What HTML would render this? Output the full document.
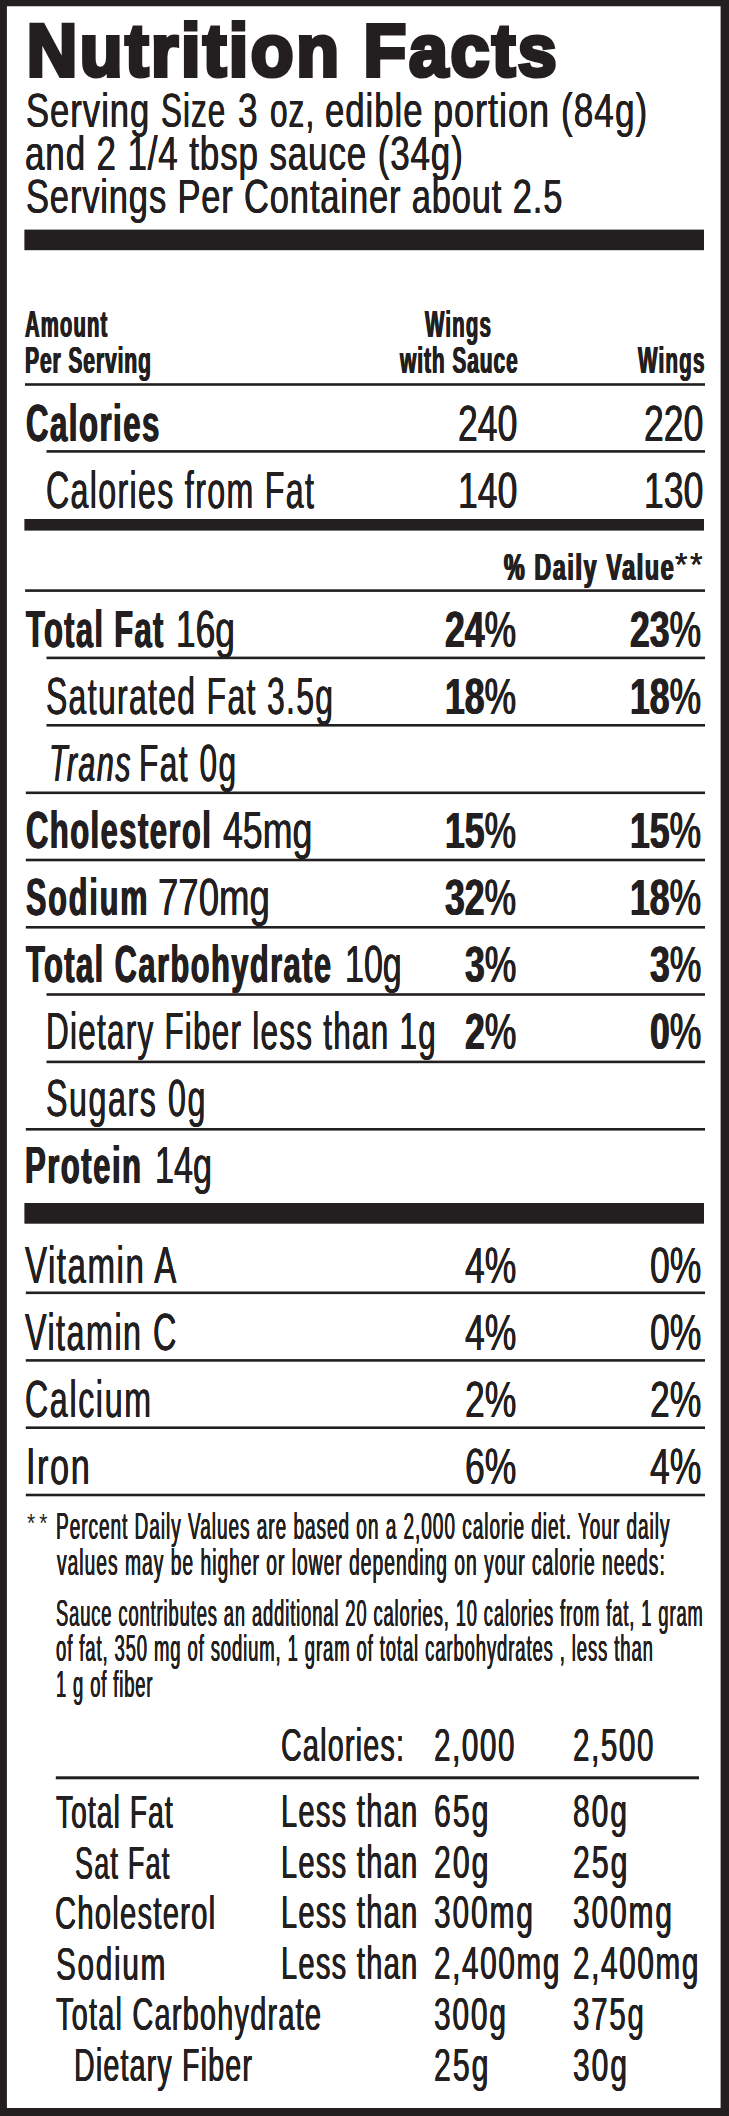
<!DOCTYPE html>
<html lang="en">
<head>
<meta charset="utf-8">
<title>Nutrition Facts</title>
<style>
html,body{margin:0;padding:0;background:#fff}
body{width:729px;height:2116px;position:relative;overflow:hidden;font-family:"Liberation Sans",sans-serif;color:#231f20}
.g{position:absolute;left:0;top:0}
.t{position:absolute;line-height:1;white-space:pre;transform-origin:0 0;font-weight:normal}
.ts{position:absolute;left:0;top:0;overflow:visible}
.t b{font-weight:bold}
</style>
</head>
<body>
<svg class="g" width="729" height="2116" viewBox="0 0 729 2116" fill="#231f20">
<path fill-rule="evenodd" d="M0 0H729V2116H0Z M6.9 6.3V2108.0H720.6V6.3Z"/>
<rect x="24.4" y="229.6" width="679.60" height="20.60"/>
<rect x="25.0" y="383.2" width="680.00" height="2.60"/>
<rect x="46.5" y="450.1" width="658.50" height="2.60"/>
<rect x="24.4" y="519.0" width="679.60" height="11.60"/>
<rect x="25.1" y="589.3" width="679.90" height="2.60"/>
<rect x="46.5" y="656.6" width="658.50" height="2.60"/>
<rect x="46.5" y="724.0" width="658.50" height="2.60"/>
<rect x="25.8" y="791.5" width="679.20" height="2.60"/>
<rect x="25.8" y="858.7" width="679.20" height="2.60"/>
<rect x="25.8" y="926.0" width="679.20" height="2.60"/>
<rect x="46.5" y="993.2" width="658.50" height="2.60"/>
<rect x="46.5" y="1060.6" width="658.50" height="2.60"/>
<rect x="25.8" y="1128.0" width="679.20" height="2.60"/>
<rect x="24.4" y="1203.0" width="679.60" height="20.70"/>
<rect x="25.8" y="1291.5" width="679.20" height="2.60"/>
<rect x="25.8" y="1359.1" width="679.20" height="2.60"/>
<rect x="25.8" y="1426.4" width="679.20" height="2.60"/>
<rect x="25.8" y="1493.7" width="679.20" height="2.60"/>
<rect x="55.8" y="1776.3" width="643.20" height="3.00"/>
</svg>
<svg class="ts" width="729" height="100" viewBox="0 0 729 100"><text transform="translate(26.69,76.00) scale(0.9350,1)" font-family="Liberation Sans, sans-serif" font-weight="bold" font-size="74.86" letter-spacing="2.775" fill="#231f20" stroke="#231f20" stroke-width="4.2" stroke-linejoin="miter" stroke-miterlimit="3">Nutrition Facts</text></svg>
<span class="t" style="left:26.07px;top:86.70px;font-size:47.53px;transform:scaleX(0.7281);text-shadow:0.34px 0 0 #231f20,-0.34px 0 0 #231f20;letter-spacing:1.377px">Serving</span>
<span class="t" style="left:161.27px;top:86.70px;font-size:47.53px;transform:scaleX(0.6616);text-shadow:0.38px 0 0 #231f20,-0.38px 0 0 #231f20;letter-spacing:1.562px">Size</span>
<span class="t" style="left:237.95px;top:86.70px;font-size:47.53px;transform:scaleX(0.7383);text-shadow:0.34px 0 0 #231f20,-0.34px 0 0 #231f20">3</span>
<span class="t" style="left:269.86px;top:86.70px;font-size:47.53px;transform:scaleX(0.6658);text-shadow:0.38px 0 0 #231f20,-0.38px 0 0 #231f20;letter-spacing:1.536px">oz,</span>
<span class="t" style="left:325.36px;top:86.70px;font-size:47.53px;transform:scaleX(0.7313);text-shadow:0.34px 0 0 #231f20,-0.34px 0 0 #231f20;letter-spacing:1.299px">edible</span>
<span class="t" style="left:432.59px;top:86.70px;font-size:47.53px;transform:scaleX(0.7612);text-shadow:0.33px 0 0 #231f20,-0.33px 0 0 #231f20;letter-spacing:1.225px">portion</span>
<span class="t" style="left:561.40px;top:86.70px;font-size:47.53px;transform:scaleX(0.7394);text-shadow:0.34px 0 0 #231f20,-0.34px 0 0 #231f20;letter-spacing:1.398px">(84g)</span>
<span class="t" style="left:25.16px;top:129.50px;font-size:47.53px;transform:scaleX(0.7360);text-shadow:0.34px 0 0 #231f20,-0.34px 0 0 #231f20;letter-spacing:1.182px">and 2 1/4 tbsp sauce (34g)</span>
<span class="t" style="left:26.07px;top:173.20px;font-size:47.53px;transform:scaleX(0.7254);text-shadow:0.34px 0 0 #231f20,-0.34px 0 0 #231f20;letter-spacing:1.187px">Servings Per Container about 2.5</span>
<span class="t" style="left:25.03px;top:306.40px;font-size:37.79px;transform:scaleX(0.5360);text-shadow:0.84px 0 0 #231f20,-0.84px 0 0 #231f20;letter-spacing:2.137px"><b>Amount</b></span>
<span class="t" style="left:25.23px;top:342.20px;font-size:37.79px;transform:scaleX(0.5588);text-shadow:0.81px 0 0 #231f20,-0.81px 0 0 #231f20;letter-spacing:1.545px"><b>Per Serving</b></span>
<span class="t" style="left:425.45px;top:306.40px;font-size:37.79px;transform:scaleX(0.5431);text-shadow:0.83px 0 0 #231f20,-0.83px 0 0 #231f20;letter-spacing:2.098px"><b>Wings</b></span>
<span class="t" style="left:399.78px;top:342.20px;font-size:37.79px;transform:scaleX(0.5551);text-shadow:0.81px 0 0 #231f20,-0.81px 0 0 #231f20;letter-spacing:1.648px"><b>with Sauce</b></span>
<span class="t" style="left:637.95px;top:342.20px;font-size:37.79px;transform:scaleX(0.5473);text-shadow:0.82px 0 0 #231f20,-0.82px 0 0 #231f20;letter-spacing:2.098px"><b>Wings</b></span>
<span class="t" style="left:26.48px;top:397.50px;font-size:51.6px;transform:scaleX(0.6033);text-shadow:0.75px 0 0 #231f20,-0.75px 0 0 #231f20;letter-spacing:2.483px"><b>Calories</b></span>
<span class="t" style="left:458.41px;top:398.50px;font-size:50.29px;transform:scaleX(0.7070);text-shadow:0.50px 0 0 #231f20,-0.50px 0 0 #231f20">240</span>
<span class="t" style="left:643.61px;top:398.50px;font-size:50.29px;transform:scaleX(0.7070);text-shadow:0.50px 0 0 #231f20,-0.50px 0 0 #231f20">220</span>
<span class="t" style="left:45.94px;top:464.60px;font-size:51.6px;transform:scaleX(0.6232);text-shadow:0.40px 0 0 #231f20,-0.40px 0 0 #231f20;letter-spacing:2.138px">Calories from Fat</span>
<span class="t" style="left:458.41px;top:465.60px;font-size:50.29px;transform:scaleX(0.7070);text-shadow:0.50px 0 0 #231f20,-0.50px 0 0 #231f20">140</span>
<span class="t" style="left:643.61px;top:465.60px;font-size:50.29px;transform:scaleX(0.7070);text-shadow:0.50px 0 0 #231f20,-0.50px 0 0 #231f20">130</span>
<span class="t" style="left:503.54px;top:548.50px;font-size:37.79px;transform:scaleX(0.6133);text-shadow:1.14px 0 0 #231f20,-1.14px 0 0 #231f20;letter-spacing:2.751px"><b>% Daily Value</b></span>
<span class="t" style="left:675.15px;top:548.40px;font-size:33.29px;transform:scaleX(0.9600);text-shadow:0.16px 0 0 #231f20,-0.16px 0 0 #231f20;letter-spacing:2.794px">**</span>
<span class="t" style="left:25.65px;top:603.80px;font-size:51.6px;transform:scaleX(0.5985);text-shadow:0.75px 0 0 #231f20,-0.75px 0 0 #231f20;letter-spacing:2.292px"><b>Total Fat</b></span>
<span class="t" style="left:176.44px;top:603.80px;font-size:51.6px;transform:scaleX(0.6840);text-shadow:0.37px 0 0 #231f20,-0.37px 0 0 #231f20">16g</span>
<span class="t" style="left:445.05px;top:604.80px;font-size:50.29px;transform:scaleX(0.7070);text-shadow:0.64px 0 0 #231f20,-0.64px 0 0 #231f20"><b>24</b>%</span>
<span class="t" style="left:630.15px;top:604.80px;font-size:50.29px;transform:scaleX(0.7070);text-shadow:0.64px 0 0 #231f20,-0.64px 0 0 #231f20"><b>23</b>%</span>
<span class="t" style="left:45.75px;top:670.90px;font-size:51.6px;transform:scaleX(0.6185);text-shadow:0.40px 0 0 #231f20,-0.40px 0 0 #231f20;letter-spacing:2.163px">Saturated Fat 3.5g</span>
<span class="t" style="left:445.05px;top:671.90px;font-size:50.29px;transform:scaleX(0.7070);text-shadow:0.64px 0 0 #231f20,-0.64px 0 0 #231f20"><b>18</b>%</span>
<span class="t" style="left:630.15px;top:671.90px;font-size:50.29px;transform:scaleX(0.7070);text-shadow:0.64px 0 0 #231f20,-0.64px 0 0 #231f20"><b>18</b>%</span>
<span class="t" style="left:49.48px;top:737.70px;font-size:51.6px;transform:scaleX(0.5868);text-shadow:0.60px 0 0 #231f20,-0.60px 0 0 #231f20;letter-spacing:2.679px"><i>Trans</i></span>
<span class="t" style="left:138.98px;top:737.70px;font-size:51.6px;transform:scaleX(0.6127);text-shadow:0.41px 0 0 #231f20,-0.41px 0 0 #231f20;letter-spacing:2.424px">Fat 0g</span>
<span class="t" style="left:26.08px;top:804.80px;font-size:51.6px;transform:scaleX(0.6001);text-shadow:0.75px 0 0 #231f20,-0.75px 0 0 #231f20;letter-spacing:2.428px"><b>Cholesterol</b></span>
<span class="t" style="left:222.69px;top:804.80px;font-size:51.6px;transform:scaleX(0.6916);text-shadow:0.36px 0 0 #231f20,-0.36px 0 0 #231f20">45mg</span>
<span class="t" style="left:445.05px;top:805.80px;font-size:50.29px;transform:scaleX(0.7070);text-shadow:0.64px 0 0 #231f20,-0.64px 0 0 #231f20"><b>15</b>%</span>
<span class="t" style="left:630.15px;top:805.80px;font-size:50.29px;transform:scaleX(0.7070);text-shadow:0.64px 0 0 #231f20,-0.64px 0 0 #231f20"><b>15</b>%</span>
<span class="t" style="left:26.37px;top:871.90px;font-size:51.6px;transform:scaleX(0.5916);text-shadow:0.76px 0 0 #231f20,-0.76px 0 0 #231f20;letter-spacing:3.221px"><b>Sodium</b></span>
<span class="t" style="left:158.33px;top:871.90px;font-size:51.6px;transform:scaleX(0.7091);text-shadow:0.35px 0 0 #231f20,-0.35px 0 0 #231f20">770mg</span>
<span class="t" style="left:445.05px;top:872.90px;font-size:50.29px;transform:scaleX(0.7070);text-shadow:0.64px 0 0 #231f20,-0.64px 0 0 #231f20"><b>32</b>%</span>
<span class="t" style="left:630.15px;top:872.90px;font-size:50.29px;transform:scaleX(0.7070);text-shadow:0.64px 0 0 #231f20,-0.64px 0 0 #231f20"><b>18</b>%</span>
<span class="t" style="left:25.65px;top:938.70px;font-size:51.6px;transform:scaleX(0.5983);text-shadow:0.75px 0 0 #231f20,-0.75px 0 0 #231f20;letter-spacing:2.393px"><b>Total Carbohydrate</b></span>
<span class="t" style="left:344.52px;top:938.70px;font-size:51.6px;transform:scaleX(0.6590);text-shadow:0.38px 0 0 #231f20,-0.38px 0 0 #231f20">10g</span>
<span class="t" style="left:464.82px;top:939.70px;font-size:50.29px;transform:scaleX(0.7070);text-shadow:0.64px 0 0 #231f20,-0.64px 0 0 #231f20"><b>3</b>%</span>
<span class="t" style="left:649.92px;top:939.70px;font-size:50.29px;transform:scaleX(0.7070);text-shadow:0.64px 0 0 #231f20,-0.64px 0 0 #231f20"><b>3</b>%</span>
<span class="t" style="left:45.79px;top:1005.50px;font-size:51.6px;transform:scaleX(0.6105);text-shadow:0.41px 0 0 #231f20,-0.41px 0 0 #231f20;letter-spacing:2.021px">Dietary Fiber less than 1g</span>
<span class="t" style="left:464.82px;top:1006.50px;font-size:50.29px;transform:scaleX(0.7070);text-shadow:0.64px 0 0 #231f20,-0.64px 0 0 #231f20"><b>2</b>%</span>
<span class="t" style="left:649.92px;top:1006.50px;font-size:50.29px;transform:scaleX(0.7070);text-shadow:0.64px 0 0 #231f20,-0.64px 0 0 #231f20"><b>0</b>%</span>
<span class="t" style="left:46.24px;top:1072.60px;font-size:51.6px;transform:scaleX(0.6241);text-shadow:0.40px 0 0 #231f20,-0.40px 0 0 #231f20;letter-spacing:2.508px">Sugars 0g</span>
<span class="t" style="left:25.11px;top:1140.20px;font-size:51.6px;transform:scaleX(0.6022);text-shadow:0.75px 0 0 #231f20,-0.75px 0 0 #231f20;letter-spacing:2.493px"><b>Protein</b></span>
<span class="t" style="left:155.42px;top:1140.20px;font-size:51.6px;transform:scaleX(0.6615);text-shadow:0.38px 0 0 #231f20,-0.38px 0 0 #231f20">14g</span>
<span class="t" style="left:25.35px;top:1240.40px;font-size:51.6px;transform:scaleX(0.6411);text-shadow:0.39px 0 0 #231f20,-0.39px 0 0 #231f20;letter-spacing:2.362px">Vitamin A</span>
<span class="t" style="left:464.92px;top:1241.40px;font-size:50.29px;transform:scaleX(0.7070);text-shadow:0.50px 0 0 #231f20,-0.50px 0 0 #231f20">4%</span>
<span class="t" style="left:650.02px;top:1241.40px;font-size:50.29px;transform:scaleX(0.7070);text-shadow:0.50px 0 0 #231f20,-0.50px 0 0 #231f20">0%</span>
<span class="t" style="left:25.35px;top:1307.00px;font-size:51.6px;transform:scaleX(0.6255);text-shadow:0.40px 0 0 #231f20,-0.40px 0 0 #231f20;letter-spacing:2.401px">Vitamin C</span>
<span class="t" style="left:464.92px;top:1308.00px;font-size:50.29px;transform:scaleX(0.7070);text-shadow:0.50px 0 0 #231f20,-0.50px 0 0 #231f20">4%</span>
<span class="t" style="left:650.02px;top:1308.00px;font-size:50.29px;transform:scaleX(0.7070);text-shadow:0.50px 0 0 #231f20,-0.50px 0 0 #231f20">0%</span>
<span class="t" style="left:25.24px;top:1374.30px;font-size:51.6px;transform:scaleX(0.6232);text-shadow:0.40px 0 0 #231f20,-0.40px 0 0 #231f20;letter-spacing:2.627px">Calcium</span>
<span class="t" style="left:464.92px;top:1375.30px;font-size:50.29px;transform:scaleX(0.7070);text-shadow:0.50px 0 0 #231f20,-0.50px 0 0 #231f20">2%</span>
<span class="t" style="left:650.02px;top:1375.30px;font-size:50.29px;transform:scaleX(0.7070);text-shadow:0.50px 0 0 #231f20,-0.50px 0 0 #231f20">2%</span>
<span class="t" style="left:25.77px;top:1441.20px;font-size:51.6px;transform:scaleX(0.6644);text-shadow:0.38px 0 0 #231f20,-0.38px 0 0 #231f20;letter-spacing:2.376px">Iron</span>
<span class="t" style="left:464.92px;top:1442.20px;font-size:50.29px;transform:scaleX(0.7070);text-shadow:0.50px 0 0 #231f20,-0.50px 0 0 #231f20">6%</span>
<span class="t" style="left:650.02px;top:1442.20px;font-size:50.29px;transform:scaleX(0.7070);text-shadow:0.50px 0 0 #231f20,-0.50px 0 0 #231f20">4%</span>
<span class="t" style="left:26.67px;top:1511.30px;font-size:25.58px;transform:scaleX(0.8200);letter-spacing:4.986px">**</span>
<span class="t" style="left:56.03px;top:1509.30px;font-size:36.92px;transform:scaleX(0.5170);text-shadow:0.43px 0 0 #231f20,-0.43px 0 0 #231f20;letter-spacing:1.821px">Percent Daily Values are based on a 2,000 calorie diet. Your daily</span>
<span class="t" style="left:56.52px;top:1544.80px;font-size:36.92px;transform:scaleX(0.5219);text-shadow:0.42px 0 0 #231f20,-0.42px 0 0 #231f20;letter-spacing:1.904px">values may be higher or lower depending on your calorie needs:</span>
<span class="t" style="left:56.15px;top:1595.60px;font-size:36.92px;transform:scaleX(0.4962);text-shadow:0.44px 0 0 #231f20,-0.44px 0 0 #231f20;letter-spacing:1.806px">Sauce contributes an additional 20 calories, 10 calories from fat, 1 gram</span>
<span class="t" style="left:56.14px;top:1631.10px;font-size:36.92px;transform:scaleX(0.4999);text-shadow:0.44px 0 0 #231f20,-0.44px 0 0 #231f20;letter-spacing:1.804px">of fat, 350 mg of sodium, 1 gram of total carbohydrates , less than</span>
<span class="t" style="left:56.37px;top:1666.70px;font-size:36.92px;transform:scaleX(0.4987);text-shadow:0.44px 0 0 #231f20,-0.44px 0 0 #231f20;letter-spacing:1.736px">1 g of fiber</span>
<span class="t" style="left:281.28px;top:1723.00px;font-size:45.79px;transform:scaleX(0.6281);text-shadow:0.53px 0 0 #231f20,-0.53px 0 0 #231f20;letter-spacing:1.895px">Calories:</span>
<span class="t" style="left:433.94px;top:1723.00px;font-size:45.79px;transform:scaleX(0.6476);text-shadow:0.51px 0 0 #231f20,-0.51px 0 0 #231f20;letter-spacing:2.419px">2,000</span>
<span class="t" style="left:572.94px;top:1723.00px;font-size:45.79px;transform:scaleX(0.6476);text-shadow:0.51px 0 0 #231f20,-0.51px 0 0 #231f20;letter-spacing:2.419px">2,500</span>
<span class="t" style="left:55.89px;top:1790.30px;font-size:45.79px;transform:scaleX(0.6115);text-shadow:0.54px 0 0 #231f20,-0.54px 0 0 #231f20;letter-spacing:1.902px">Total Fat</span>
<span class="t" style="left:281.07px;top:1789.00px;font-size:45.79px;transform:scaleX(0.6329);text-shadow:0.52px 0 0 #231f20,-0.52px 0 0 #231f20;letter-spacing:2.091px">Less than</span>
<span class="t" style="left:433.92px;top:1789.00px;font-size:45.79px;transform:scaleX(0.6590);text-shadow:0.50px 0 0 #231f20,-0.50px 0 0 #231f20;letter-spacing:3.116px">65g</span>
<span class="t" style="left:573.40px;top:1789.00px;font-size:45.79px;transform:scaleX(0.6525);text-shadow:0.51px 0 0 #231f20,-0.51px 0 0 #231f20;letter-spacing:3.147px">80g</span>
<span class="t" style="left:75.29px;top:1840.78px;font-size:45.79px;transform:scaleX(0.5881);text-shadow:0.56px 0 0 #231f20,-0.56px 0 0 #231f20;letter-spacing:2.121px">Sat Fat</span>
<span class="t" style="left:281.07px;top:1839.74px;font-size:45.79px;transform:scaleX(0.6329);text-shadow:0.52px 0 0 #231f20,-0.52px 0 0 #231f20;letter-spacing:2.091px">Less than</span>
<span class="t" style="left:433.92px;top:1839.74px;font-size:45.79px;transform:scaleX(0.6590);text-shadow:0.50px 0 0 #231f20,-0.50px 0 0 #231f20;letter-spacing:3.116px">20g</span>
<span class="t" style="left:572.92px;top:1839.74px;font-size:45.79px;transform:scaleX(0.6590);text-shadow:0.50px 0 0 #231f20,-0.50px 0 0 #231f20;letter-spacing:3.116px">25g</span>
<span class="t" style="left:55.46px;top:1891.26px;font-size:45.79px;transform:scaleX(0.6373);text-shadow:0.52px 0 0 #231f20,-0.52px 0 0 #231f20;letter-spacing:1.969px">Cholesterol</span>
<span class="t" style="left:281.07px;top:1890.48px;font-size:45.79px;transform:scaleX(0.6329);text-shadow:0.52px 0 0 #231f20,-0.52px 0 0 #231f20;letter-spacing:2.091px">Less than</span>
<span class="t" style="left:434.40px;top:1890.48px;font-size:45.79px;transform:scaleX(0.6518);text-shadow:0.51px 0 0 #231f20,-0.51px 0 0 #231f20;letter-spacing:2.956px">300mg</span>
<span class="t" style="left:573.40px;top:1890.48px;font-size:45.79px;transform:scaleX(0.6518);text-shadow:0.51px 0 0 #231f20,-0.51px 0 0 #231f20;letter-spacing:2.956px">300mg</span>
<span class="t" style="left:55.90px;top:1941.74px;font-size:45.79px;transform:scaleX(0.6491);text-shadow:0.51px 0 0 #231f20,-0.51px 0 0 #231f20;letter-spacing:2.634px">Sodium</span>
<span class="t" style="left:281.07px;top:1941.22px;font-size:45.79px;transform:scaleX(0.6329);text-shadow:0.52px 0 0 #231f20,-0.52px 0 0 #231f20;letter-spacing:2.091px">Less than</span>
<span class="t" style="left:433.94px;top:1941.22px;font-size:45.79px;transform:scaleX(0.6489);text-shadow:0.51px 0 0 #231f20,-0.51px 0 0 #231f20;letter-spacing:2.514px">2,400mg</span>
<span class="t" style="left:572.94px;top:1941.22px;font-size:45.79px;transform:scaleX(0.6489);text-shadow:0.51px 0 0 #231f20,-0.51px 0 0 #231f20;letter-spacing:2.514px">2,400mg</span>
<span class="t" style="left:55.88px;top:1992.22px;font-size:45.79px;transform:scaleX(0.6305);text-shadow:0.52px 0 0 #231f20,-0.52px 0 0 #231f20;letter-spacing:1.966px">Total Carbohydrate</span>
<span class="t" style="left:434.40px;top:1991.96px;font-size:45.79px;transform:scaleX(0.6519);text-shadow:0.51px 0 0 #231f20,-0.51px 0 0 #231f20;letter-spacing:2.836px">300g</span>
<span class="t" style="left:573.41px;top:1991.96px;font-size:45.79px;transform:scaleX(0.6425);text-shadow:0.51px 0 0 #231f20,-0.51px 0 0 #231f20;letter-spacing:2.836px">375g</span>
<span class="t" style="left:73.89px;top:2042.70px;font-size:45.79px;transform:scaleX(0.6254);text-shadow:0.53px 0 0 #231f20,-0.53px 0 0 #231f20;letter-spacing:1.871px">Dietary Fiber</span>
<span class="t" style="left:433.92px;top:2042.70px;font-size:45.79px;transform:scaleX(0.6590);text-shadow:0.50px 0 0 #231f20,-0.50px 0 0 #231f20;letter-spacing:3.116px">25g</span>
<span class="t" style="left:573.40px;top:2042.70px;font-size:45.79px;transform:scaleX(0.6525);text-shadow:0.51px 0 0 #231f20,-0.51px 0 0 #231f20;letter-spacing:3.147px">30g</span>
</body>
</html>
